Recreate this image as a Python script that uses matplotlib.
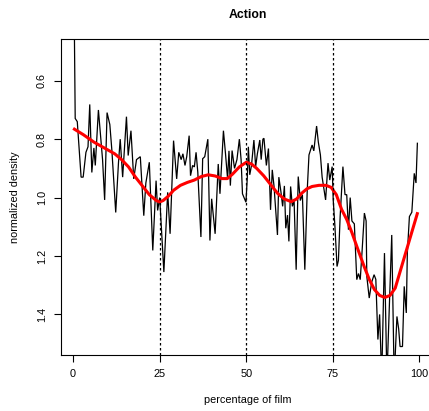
import matplotlib
matplotlib.use("Agg")
import matplotlib.pyplot as plt

plt.rcParams['font.family'] = ['Liberation Sans', 'DejaVu Sans']

# noisy normalized density (black)
pct = [0.3, 0.6, 1.2, 2.3, 2.9, 3.7, 4.3, 4.8, 5.4, 6.0, 6.4, 7.3, 8.0, 8.5, 9.1, 9.8,
       10.6, 11.2, 12.3, 13.1, 13.6, 14.3, 15.4, 15.9, 16.7, 17.5, 18.3, 19.4, 20.4, 21.0,
       22.0, 23.0, 23.95, 24.4, 25.0, 26.2, 27.3, 28.0, 29.0, 29.9, 30.5, 31.2, 31.7, 32.3,
       32.8, 33.5, 33.9, 34.5, 35.0, 35.5, 36.0, 36.9, 37.4, 38.0, 38.9, 39.5, 40.0, 41.0,
       41.9, 42.4, 43.4, 44.0, 44.6, 45.0, 45.4, 45.9, 46.6, 47.3, 48.0, 48.5, 48.9, 49.9,
       50.3, 50.6, 51.0, 51.5, 52.2, 52.7, 53.2, 53.9, 54.3, 54.8, 55.1, 55.8, 56.4, 57.0,
       57.5, 58.0, 59.0, 59.4, 60.0, 60.5, 61.0, 61.4, 61.9, 62.3, 62.8, 63.3, 63.8, 64.4,
       65.0, 65.6, 66.2, 66.9, 67.6, 68.1, 69.0, 69.5, 70.3, 70.8, 71.4, 71.9, 72.9, 73.6,
       74.1, 74.8, 75.1, 75.6, 76.2, 76.6, 77.1, 77.9, 78.5, 79.0, 79.5, 80.0, 80.5, 81.2,
       81.9, 82.4, 82.9, 83.4, 84.1, 84.6, 84.8, 85.5, 86.2, 86.9, 87.4, 88.0, 88.5, 89.1,
       89.9, 90.6, 91.3, 92.0, 92.7, 93.5, 94.0, 94.4, 95.1, 95.6, 96.2, 96.5, 97.1, 97.8,
       98.5, 99.0, 99.4]
density = [0.35, 0.729, 0.74, 0.93, 0.93, 0.845, 0.826, 0.681, 0.914, 0.83, 0.89, 0.70, 0.80, 0.87, 1.008, 0.709,
           0.75, 0.84, 1.051, 0.88, 0.80, 0.93, 0.723, 0.856, 0.771, 0.936, 0.87, 0.86, 1.062, 0.95,
           0.879, 1.181, 0.942, 1.044, 1.00, 1.255, 0.982, 1.124, 0.805, 0.936, 0.845, 0.87, 0.85, 0.89,
           0.86, 0.788, 0.925, 0.89, 0.895, 0.845, 0.913, 1.135, 0.867, 0.86, 0.80, 1.147, 1.004, 1.124,
           0.885, 0.987, 0.771, 0.85, 0.936, 0.84, 0.959, 0.839, 0.90, 0.87, 0.80, 0.87, 0.987, 1.016,
           0.93, 0.826, 0.922, 0.89, 0.803, 0.894, 0.85, 0.803, 0.87, 0.80, 0.797, 0.89, 0.832, 1.042,
           0.905, 0.96, 1.128, 0.93, 0.98, 1.03, 0.96, 1.105, 1.06, 1.15, 0.962, 1.03, 1.01, 1.247,
           0.928, 1.01, 0.99, 1.247, 0.974, 0.854, 0.82, 0.84, 0.755, 0.81, 0.854, 0.93, 1.008, 0.882,
           0.94, 0.894, 1.008, 1.10, 1.236, 1.215, 1.065, 0.894, 0.99, 0.99, 1.11, 1.00, 1.08, 1.09,
           1.281, 1.26, 1.281, 1.19, 1.053, 1.08, 1.27, 1.344, 1.29, 1.264, 1.28, 1.486, 1.40, 1.62,
           1.19, 1.62, 1.373, 1.128, 1.62, 1.407, 1.45, 1.51, 1.51, 1.304, 1.395, 1.19, 1.065, 1.05,
           0.917, 0.95, 0.814]

# smoothed trend (red)
smooth_pct = [0, 3, 6, 9, 12, 14, 16, 18, 20, 22, 24, 25, 26, 27.5, 29, 31, 33, 35, 37, 39, 41, 43,
              44.5, 46, 48, 50, 51.5, 53, 55, 57, 59, 61, 63, 64.5, 66, 67.5, 69, 71, 73, 74.5,
              76, 77.5, 79, 80.5, 82, 84, 85.5, 87, 88.5, 90, 91.5, 93, 94.5, 96, 97.5, 99.5]
smooth_density = [0.763, 0.785, 0.81, 0.83, 0.85, 0.87, 0.895, 0.93, 0.96, 0.99, 1.01, 1.015, 1.01,
                  0.995, 0.975, 0.958, 0.948, 0.94, 0.928, 0.922, 0.926, 0.935, 0.935, 0.92, 0.895,
                  0.879, 0.885, 0.90, 0.925, 0.955, 0.985, 1.005, 1.014, 1.005, 0.985, 0.97, 0.962,
                  0.958, 0.958, 0.965, 0.99, 1.04, 1.075, 1.12, 1.17, 1.235, 1.28, 1.315, 1.335,
                  1.342, 1.335, 1.31, 1.25, 1.19, 1.13, 1.05]

act_breaks = [25, 50, 75]
xticks = [0, 25, 50, 75, 100]
yticks = [0.6, 0.8, 1.0, 1.2, 1.4]

W, H = 429, 411
fig = plt.figure(figsize=(W / 100, H / 100), dpi=100)
L, R, T, B = 61, 434, 39, 355
ax = fig.add_axes([L / W, 1 - B / H, (R - L) / W, (B - T) / H])

ax.plot(pct, density, color='black', lw=0.9, solid_joinstyle='miter')
ax.plot(smooth_pct, smooth_density, color='#ff0000', lw=2.2, solid_capstyle='butt')
for b in act_breaks:
    ax.axvline(b, color='black', lw=0.9, linestyle=(0, (2, 2)))

ax.set_xlim(-3.5, 104.2)
ax.set_ylim(1.539, 0.457)
ax.set_xticks(xticks)
ax.set_xticklabels([str(v) for v in xticks])
ax.set_yticks(yticks)
ax.set_yticklabels([f"{v:.1f}" for v in yticks], rotation=90, va='center')
ax.tick_params(axis='both', direction='out', length=5, width=0.8, labelsize=7.8, color='black')
ax.tick_params(axis='x', pad=5)
ax.tick_params(axis='y', pad=5)
for s in ax.spines.values():
    s.set_linewidth(0.8)
    s.set_color('black')

ax.set_xlabel('percentage of film', fontsize=7.8)
ax.set_ylabel('normalized density', fontsize=7.8)
ax.xaxis.set_label_coords((247.5 - L) / (R - L), -(400 - B) / (B - T))
ax.yaxis.set_label_coords(-(L - 15) / (R - L), 0.5)
ax.xaxis.label.set_va('center')
ax.yaxis.label.set_va('center')
ax.text(0.5, 1 + (T - 15) / (B - T), 'Action', transform=ax.transAxes,
        ha='center', va='center', fontsize=8.8, fontweight='bold')

fig.savefig('out.png', dpi=100)
